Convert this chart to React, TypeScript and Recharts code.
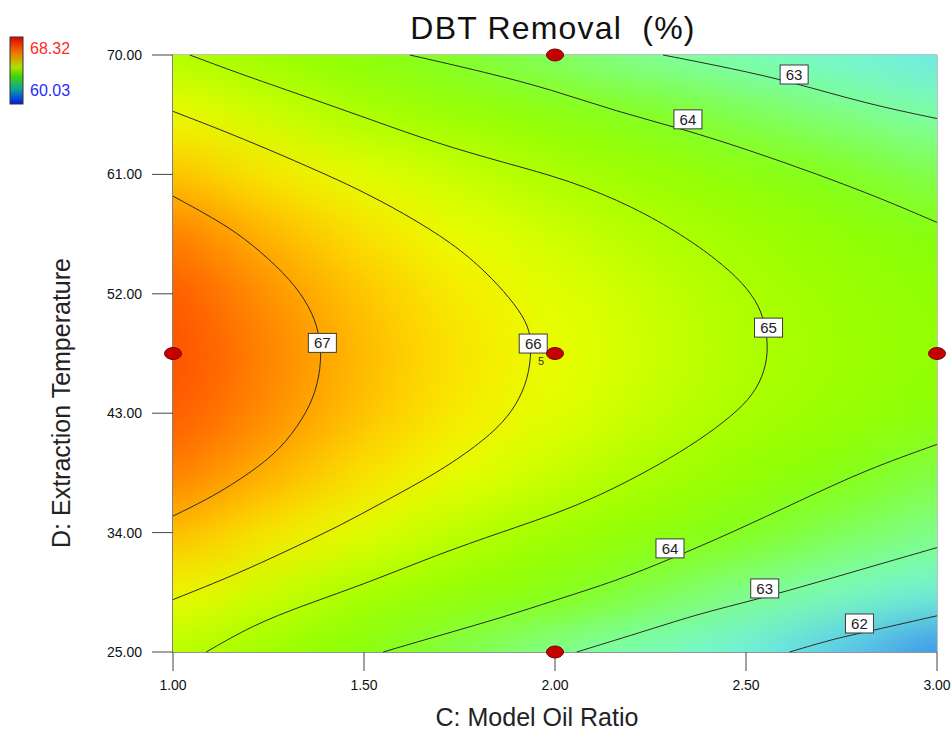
// DBT Removal (%) contour map, C: Model Oil Ratio vs D: Extraction Temperature
import { ScatterChart, Scatter, XAxis, YAxis, ReferenceArea } from 'recharts'

const FONT = "'Liberation Sans', Arial, sans-serif"

const CHART_W = 952
const CHART_H = 735
const PLOT_L = 173
const PLOT_T = 55
const PLOT_R = 937
const PLOT_B = 652

const X_TICKS = [1, 1.5, 2, 2.5, 3]
const Y_TICKS = [25, 34, 43, 52, 61, 70]

// response surface (rows follow GRID_Y, columns GRID_X)
const GRID_X = [1, 1.25, 1.5, 1.75, 2, 2.25, 2.5, 2.75, 3]
const GRID_Y = [25, 29.5, 34, 38.5, 43, 47.5, 52, 56.5, 61, 65.5, 70]
const GRID_VALUES = [
  [65.19, 64.65, 64.11, 63.61, 63.11, 62.65, 62.20, 61.77, 61.35],
  [66.09, 65.48, 64.90, 64.50, 64.11, 63.65, 63.18, 62.72, 62.30],
  [66.80, 66.30, 65.78, 65.23, 64.76, 64.35, 63.94, 63.55, 63.20],
  [67.57, 66.90, 66.39, 65.89, 65.43, 64.97, 64.53, 64.08, 63.66],
  [68.12, 67.32, 66.72, 66.25, 65.80, 65.37, 64.96, 64.61, 64.26],
  [68.30, 67.46, 66.80, 66.34, 65.90, 65.50, 65.09, 64.74, 64.41],
  [68.12, 67.28, 66.69, 66.23, 65.80, 65.41, 65.02, 64.68, 64.35],
  [67.57, 66.85, 66.37, 65.91, 65.52, 65.12, 64.77, 64.43, 64.10],
  [66.74, 66.27, 65.82, 65.42, 65.01, 64.65, 64.28, 63.92, 63.59],
  [66.05, 65.51, 64.97, 64.62, 64.27, 63.92, 63.60, 63.27, 62.94],
  [65.08, 64.64, 64.21, 63.80, 63.43, 63.05, 62.71, 62.38, 62.05],
]

// contour lines (x = model oil ratio, y = extraction temperature)
const CONTOUR_67 = [
  { x: 1.0, y: 59.36 }, { x: 1.079, y: 58.13 }, { x: 1.166, y: 56.66 }, { x: 1.253, y: 54.61 },
  { x: 1.323, y: 52.55 }, { x: 1.367, y: 50.5 }, { x: 1.384, y: 48.74 }, { x: 1.389, y: 46.98 },
  { x: 1.375, y: 44.64 }, { x: 1.341, y: 42.59 }, { x: 1.28, y: 40.24 }, { x: 1.201, y: 38.48 },
  { x: 1.105, y: 36.72 }, { x: 1.0, y: 35.25 },
]
const CONTOUR_66 = [
  { x: 1.0, y: 65.75 }, { x: 1.122, y: 64.4 }, { x: 1.253, y: 62.85 }, { x: 1.384, y: 61.2 },
  { x: 1.48, y: 59.95 }, { x: 1.603, y: 58.1 }, { x: 1.734, y: 55.78 }, { x: 1.821, y: 53.6 },
  { x: 1.882, y: 51.68 }, { x: 1.926, y: 49.91 }, { x: 1.939, y: 48.45 }, { x: 1.934, y: 46.11 },
  { x: 1.908, y: 44.05 }, { x: 1.865, y: 42.29 }, { x: 1.795, y: 40.53 }, { x: 1.69, y: 38.48 },
  { x: 1.559, y: 36.43 }, { x: 1.428, y: 34.38 }, { x: 1.297, y: 32.61 }, { x: 1.166, y: 30.86 },
  { x: 1.0, y: 28.95 },
]
const CONTOUR_65 = [
  { x: 1.044, y: 70 }, { x: 1.166, y: 68.68 }, { x: 1.341, y: 66.93 }, { x: 1.515, y: 65.16 },
  { x: 1.69, y: 63.35 }, { x: 1.865, y: 61.9 }, { x: 2.039, y: 60.55 }, { x: 2.206, y: 58.55 },
  { x: 2.335, y: 56.4 }, { x: 2.423, y: 54.59 }, { x: 2.492, y: 52.83 }, { x: 2.536, y: 51.07 },
  { x: 2.553, y: 49.31 }, { x: 2.558, y: 47.55 }, { x: 2.545, y: 45.78 }, { x: 2.51, y: 44.02 },
  { x: 2.44, y: 42.26 }, { x: 2.353, y: 40.5 }, { x: 2.249, y: 38.74 }, { x: 2.118, y: 36.8 },
  { x: 2.0, y: 35.4 }, { x: 1.865, y: 34.08 }, { x: 1.69, y: 32.32 }, { x: 1.515, y: 30.27 },
  { x: 1.341, y: 28.51 }, { x: 1.21, y: 27.04 }, { x: 1.087, y: 25 },
]
const CONTOUR_64_TOP = [
  { x: 1.62, y: 70 }, { x: 1.821, y: 68.68 }, { x: 1.99, y: 67.4 }, { x: 2.161, y: 65.74 },
  { x: 2.335, y: 64.42 }, { x: 2.51, y: 62.81 }, { x: 2.684, y: 61.05 }, { x: 2.858, y: 59.14 },
  { x: 3.0, y: 57.38 },
]
const CONTOUR_64_BOTTOM = [
  { x: 1.55, y: 25 }, { x: 1.69, y: 26.18 }, { x: 1.865, y: 27.63 }, { x: 2.0, y: 28.9 },
  { x: 2.161, y: 30.37 }, { x: 2.301, y: 31.99 }, { x: 2.466, y: 34.04 }, { x: 2.64, y: 36.39 },
  { x: 2.815, y: 38.74 }, { x: 3.0, y: 40.65 },
]
const CONTOUR_63_TOP = [
  { x: 2.283, y: 70 }, { x: 2.466, y: 68.97 }, { x: 2.623, y: 67.94 }, { x: 2.815, y: 66.33 },
  { x: 3.0, y: 65.21 },
]
const CONTOUR_63_BOTTOM = [
  { x: 2.057, y: 25 }, { x: 2.249, y: 26.7 }, { x: 2.379, y: 27.9 }, { x: 2.527, y: 28.95 },
  { x: 2.684, y: 30.23 }, { x: 2.858, y: 31.69 }, { x: 3.0, y: 32.87 },
]
const CONTOUR_62 = [
  { x: 2.614, y: 25 }, { x: 2.728, y: 25.97 }, { x: 2.797, y: 26.4 }, { x: 3.0, y: 27.73 },
]

const CONTOUR_LABELS = [
  { x: 1.391, y: 48.3, label: '67' },
  { x: 1.943, y: 48.25, label: '66' },
  { x: 2.559, y: 49.45, label: '65' },
  { x: 2.348, y: 65.15, label: '64' },
  { x: 2.626, y: 68.53, label: '63' },
  { x: 2.301, y: 32.81, label: '64' },
  { x: 2.549, y: 29.79, label: '63' },
  { x: 2.797, y: 27.15, label: '62' },
]

// design points, n = number of runs at that point
const DESIGN_POINTS = [
  { x: 1, y: 47.5, n: 1 },
  { x: 2, y: 47.5, n: 5 },
  { x: 3, y: 47.5, n: 1 },
  { x: 2, y: 70, n: 1 },
  { x: 2, y: 25, n: 1 },
]

const LEGEND_MAX = '68.32'
const LEGEND_MIN = '60.03'

const HEAT_STOPS: [number, string][] = [
  [61.2, '#2f74e6'], [61.6, '#4aaef0'], [62.0, '#6ce6ec'], [62.5, '#78fcd0'],
  [63.0, '#80ffa6'], [63.5, '#80ff60'], [64.0, '#82ff10'], [64.5, '#94ff00'],
  [65.0, '#aaff00'], [65.5, '#cdff00'], [66.0, '#f2ff00'], [66.5, '#ffd800'],
  [67.0, '#ffa600'], [67.6, '#ff7800'], [68.3, '#ff4c00'],
]

function hexToRgb(h: string) {
  return [1, 3, 5].map(i => parseInt(h.slice(i, i + 2), 16))
}

function heatColor(v: number) {
  if (v <= HEAT_STOPS[0][0]) return HEAT_STOPS[0][1]
  for (let i = 1; i < HEAT_STOPS.length; i++) {
    const [v1, c1] = HEAT_STOPS[i]
    if (v <= v1) {
      const [v0, c0] = HEAT_STOPS[i - 1]
      const t = (v - v0) / (v1 - v0)
      const a = hexToRgb(c0), b = hexToRgb(c1)
      const m = a.map((c, k) => Math.round(c + (b[k] - c) * t))
      return `rgb(${m[0]},${m[1]},${m[2]})`
    }
  }
  return HEAT_STOPS[HEAT_STOPS.length - 1][1]
}

const heatCells = GRID_Y.flatMap((y, i) => GRID_X.map((x, j) => ({ x, y, v: GRID_VALUES[i][j] })))

const CELL_W = (PLOT_R - PLOT_L) / (GRID_X.length - 1)
const CELL_H = (PLOT_B - PLOT_T) / (GRID_Y.length - 1)

function HeatCell(props: any) {
  const { cx, cy, payload } = props
  return (
    <rect x={cx - CELL_W / 2 - 0.5} y={cy - CELL_H / 2 - 0.5} width={CELL_W + 1} height={CELL_H + 1}
      fill={heatColor(payload.v)} stroke="none" />
  )
}

function ContourLabel(props: any) {
  const { cx, cy, payload } = props
  return (
    <g>
      <rect x={cx - 14} y={cy - 9.5} width={28} height={19} fill="#fff" stroke="#3a3a3a" strokeWidth={1} />
      <text x={cx} y={cy + 5.5} textAnchor="middle" fontSize={15} fontFamily={FONT} fill="#222">
        {payload.label}
      </text>
    </g>
  )
}

function DesignPoint(props: any) {
  const { cx, cy, payload } = props
  return (
    <g>
      <ellipse cx={cx} cy={cy} rx={8.5} ry={6} fill="#c40000" stroke="#7a0000" strokeWidth={1} />
      {payload.n > 1 && (
        <text x={cx - 14} y={cy + 11} textAnchor="middle" fontSize={11} fontFamily={FONT} fill="#333">
          {payload.n}
        </text>
      )}
    </g>
  )
}

const noDot = () => <g />

const contours = [
  CONTOUR_67, CONTOUR_66, CONTOUR_65, CONTOUR_64_TOP, CONTOUR_64_BOTTOM,
  CONTOUR_63_TOP, CONTOUR_63_BOTTOM, CONTOUR_62,
]

export default function App() {
  return (
    <div style={{ position: 'absolute', left: 0, top: 0, width: CHART_W, height: CHART_H, background: '#fff', fontFamily: FONT }}>
      <style>{`.heatmap { filter: url(#heatBlur); }`}</style>
      <svg width={0} height={0} style={{ position: 'absolute' }}>
        <defs>
          <filter id="heatBlur" filterUnits="userSpaceOnUse" x={PLOT_L} y={PLOT_T}
            width={PLOT_R - PLOT_L} height={PLOT_B - PLOT_T} colorInterpolationFilters="sRGB">
            <feGaussianBlur stdDeviation={`${CELL_W * 0.42} ${CELL_H * 0.42}`} />
            <feComponentTransfer>
              <feFuncA type="linear" slope={60} intercept={0} />
            </feComponentTransfer>
          </filter>
        </defs>
      </svg>

      <ScatterChart width={CHART_W} height={CHART_H}
        margin={{ top: PLOT_T, right: CHART_W - PLOT_R, bottom: 43, left: PLOT_L - 70 }}>
        <XAxis type="number" dataKey="x" domain={[1, 3]} ticks={X_TICKS}
          tickFormatter={(v: number) => v.toFixed(2)} height={40}
          tick={{ fill: '#111', fontSize: 14, fontFamily: FONT }}
          tickSize={19} tickMargin={9}
          axisLine={{ stroke: '#666' }} tickLine={{ stroke: '#444' }} />
        <YAxis type="number" dataKey="y" domain={[25, 70]} ticks={Y_TICKS}
          tickFormatter={(v: number) => v.toFixed(2)} width={70}
          tick={{ fill: '#111', fontSize: 14, fontFamily: FONT }}
          tickSize={21} tickMargin={10}
          axisLine={{ stroke: '#444' }} tickLine={{ stroke: '#444' }} />

        <Scatter data={heatCells} className="heatmap" shape={HeatCell} isAnimationActive={false} />

        {contours.map((c, i) => (
          <Scatter key={i} data={c} line={{ stroke: '#2a2a2a', strokeWidth: 1 }}
            lineJointType="basis" shape={noDot} isAnimationActive={false} />
        ))}

        <ReferenceArea x1={1} x2={3} y1={25} y2={70} fill="none" stroke="#808080" strokeWidth={1} />

        <Scatter data={CONTOUR_LABELS} shape={ContourLabel} isAnimationActive={false} />
        <Scatter data={DESIGN_POINTS} shape={DesignPoint} isAnimationActive={false} />
      </ScatterChart>

      <svg width={CHART_W} height={CHART_H} style={{ position: 'absolute', left: 0, top: 0, pointerEvents: 'none' }}>
        <text x={553} y={39} textAnchor="middle" fontSize={32} letterSpacing={1.2} fontFamily={FONT} fill="#111">
          {'DBT Removal\u00a0 (%)'}
        </text>
        <text x={537} y={726} textAnchor="middle" fontSize={25} fontFamily={FONT} fill="#222">
          C: Model Oil Ratio
        </text>
        <text x={70} y={403} textAnchor="middle" fontSize={25} fontFamily={FONT} fill="#222"
          transform="rotate(-90, 70, 403)">
          D: Extraction Temperature
        </text>
        <defs>
          <linearGradient id="legendGrad" x1="0" y1="0" x2="0" y2="1">
            <stop offset="0" stopColor="#e00000" />
            <stop offset="0.22" stopColor="#f07000" />
            <stop offset="0.45" stopColor="#b0e000" />
            <stop offset="0.58" stopColor="#40d800" />
            <stop offset="0.78" stopColor="#10a0a0" />
            <stop offset="1" stopColor="#0018f0" />
          </linearGradient>
        </defs>
        <rect x={10} y={37} width={13} height={67} fill="url(#legendGrad)" stroke="#333" strokeWidth={1} />
        <text x={30} y={54} fontSize={16} fontFamily={FONT} fill="#ff2a2a">{LEGEND_MAX}</text>
        <text x={30} y={96} fontSize={16} fontFamily={FONT} fill="#2a2aff">{LEGEND_MIN}</text>
      </svg>
    </div>
  )
}
